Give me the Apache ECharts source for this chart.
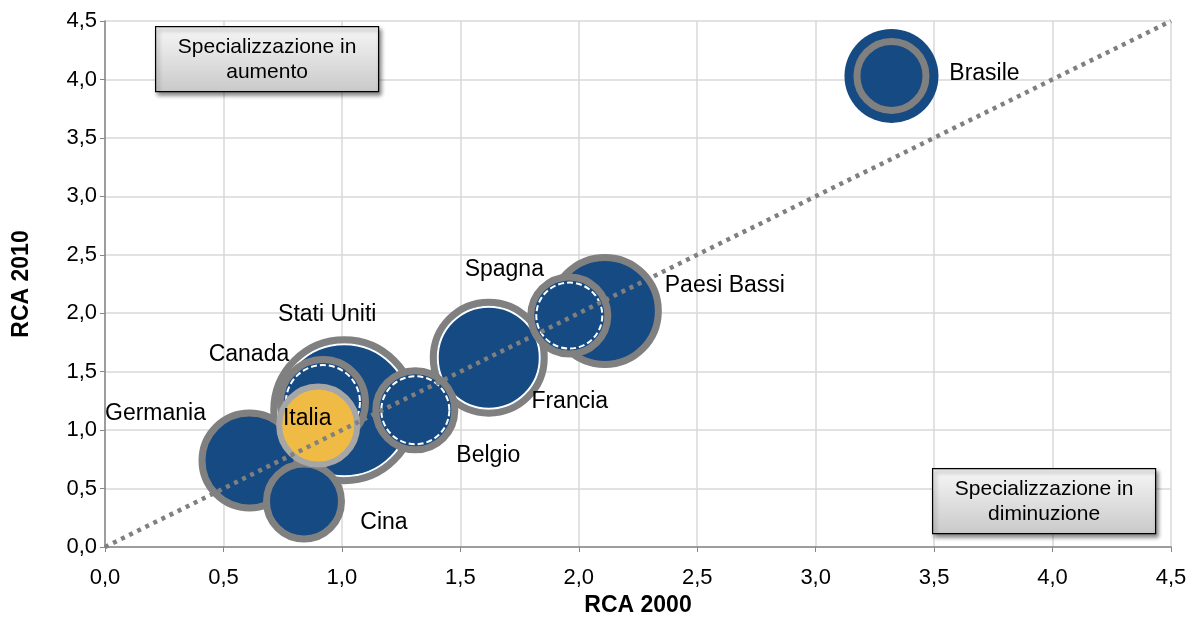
<!DOCTYPE html>
<html>
<head>
<meta charset="utf-8">
<script src="https://cdn.jsdelivr.net/npm/echarts@6/dist/echarts.min.js"></script>
<style>
  html, body { margin: 0; padding: 0; background: #fff; }
  #chart { width: 1191px; height: 622px; }
</style>
</head>
<body>
<div id="chart"></div>
<script>
// Indice RCA per paese: 2000 (asse x) e 2010 (asse y), dimensione bolla
const countries = ['Stati Uniti', 'Germania', 'Cina', 'Canada', 'Paesi Bassi', 'Francia', 'Spagna', 'Belgio', 'Italia', 'Brasile'];
const rca2000   = [1.01, 0.61, 0.84, 0.92, 2.11, 1.62, 1.96, 1.31, 0.90, 3.32];
const rca2010   = [1.17, 0.74, 0.39, 1.24, 2.02, 1.62, 1.98, 1.17, 1.04, 4.03];
const bubble    = [74, 51, 41, 46, 57, 59, 42, 43, 42, 47];
const axisTicks = [0, 0.5, 1.0, 1.5, 2.0, 2.5, 3.0, 3.5, 4.0, 4.5];

const BLUE = '#164a82';
const GRAY = '#808080';
const LIGHTGRAY = '#a6a6a6';
const YELLOW = '#f0bb45';

// Stile del contorno per ogni bolla
const ringStyle = {
  'Stati Uniti': 'white', 'Francia': 'white',
  'Germania': 'plain', 'Cina': 'plain', 'Paesi Bassi': 'plain',
  'Canada': 'dashed', 'Spagna': 'dashed', 'Belgio': 'dashed',
  'Italia': 'yellow', 'Brasile': 'double'
};
// Spostamento dell'etichetta rispetto al centro della bolla (px)
const labelShift = {
  'Stati Uniti': [-17, -96], 'Germania': [-94, -47], 'Cina': [80, 21],
  'Canada': [-74, -47], 'Paesi Bassi': [120, -25], 'Francia': [81, 44],
  'Spagna': [-65, -46], 'Belgio': [73, 45], 'Italia': [-11, -7], 'Brasile': [93, -2]
};

const points = countries.map((c, i) => [rca2000[i], rca2010[i], bubble[i], c]);
const fmt = v => v.toFixed(1).replace('.', ',');
const FONT = '"Liberation Sans", Arial, sans-serif';

function circle(cx, cy, r, style) {
  return { type: 'circle', shape: { cx, cy, r }, style };
}

function renderBubble(params, api) {
  const p = api.coord([api.value(0), api.value(1)]);
  const r = api.value(2);
  const name = countries[params.dataIndex];
  const kind = ringStyle[name];
  const children = [];
  if (kind === 'yellow') {
    children.push(circle(p[0], p[1], r - 3, { fill: YELLOW, stroke: LIGHTGRAY, lineWidth: 6 }));
  } else if (kind === 'double') {
    children.push(circle(p[0], p[1], r, { fill: BLUE }));
    children.push(circle(p[0], p[1], r - 12.5, { fill: BLUE, stroke: GRAY, lineWidth: 7 }));
  } else {
    children.push(circle(p[0], p[1], r - 3.5, { fill: BLUE, stroke: GRAY, lineWidth: 7 }));
    if (kind === 'white') {
      children.push(circle(p[0], p[1], r - 8, { fill: 'none', stroke: '#ffffff', lineWidth: 2 }));
    } else if (kind === 'dashed') {
      children.push(circle(p[0], p[1], r - 9, { fill: 'none', stroke: '#ffffff', lineWidth: 2, lineDash: [6, 3] }));
    }
  }
  return { type: 'group', children };
}

function renderLabel(params, api) {
  const p = api.coord([api.value(0), api.value(1)]);
  const name = countries[params.dataIndex];
  const s = labelShift[name];
  return {
    type: 'text',
    x: p[0] + s[0], y: p[1] + s[1],
    style: { text: name, fill: '#000', font: '23px ' + FONT, align: 'center', verticalAlign: 'middle' }
  };
}

function infoBox(left, top, text) {
  return {
    type: 'group', left, top, z: 20,
    children: [
      { type: 'rect', z: 20, shape: { x: 0, y: 0, width: 223, height: 65 },
        style: {
          fill: new echarts.graphic.LinearGradient(0, 0, 0, 1, [
            { offset: 0, color: '#f7f7f7' }, { offset: 1, color: '#c9c9c9' }
          ]),
          stroke: '#000', lineWidth: 1.2,
          shadowBlur: 4, shadowOffsetX: 2, shadowOffsetY: 3, shadowColor: 'rgba(0,0,0,0.45)'
        } },
      { type: 'text', z: 21, x: 111.5, y: 33,
        style: { text, fill: '#000', font: '21px ' + FONT, align: 'center', verticalAlign: 'middle', lineHeight: 25 } }
    ]
  };
}

const axisCommon = {
  type: 'value', min: axisTicks[0], max: axisTicks[axisTicks.length - 1], interval: 0.5,
  axisLine: { show: true, lineStyle: { color: '#868686', width: 1.5 } },
  axisTick: { show: true, length: 5, lineStyle: { color: '#868686' } },
  splitLine: { show: true, lineStyle: { color: '#d9d9d9', width: 1.5 } },
  axisLabel: { formatter: fmt, color: '#000', fontSize: 22, fontFamily: FONT },
  nameLocation: 'middle',
  nameTextStyle: { color: '#000', fontSize: 23, fontWeight: 'bold', fontFamily: FONT }
};

const chart = echarts.init(document.getElementById('chart'), null, { renderer: 'canvas' });
chart.setOption({
  animation: false,
  backgroundColor: '#ffffff',
  grid: { left: 105, right: 20, top: 21, bottom: 75 },
  xAxis: Object.assign({}, axisCommon, { name: 'RCA 2000', nameGap: 47,
    axisLabel: Object.assign({}, axisCommon.axisLabel, { margin: 20 }) }),
  yAxis: Object.assign({}, axisCommon, { name: 'RCA 2010', nameGap: 72,
    axisLabel: Object.assign({}, axisCommon.axisLabel, { margin: 8 }) }),
  graphic: [
    infoBox(155, 26, 'Specializzazione in\naumento'),
    infoBox(932, 468, 'Specializzazione in\ndiminuzione')
  ],
  series: [
    { type: 'custom', z: 2, renderItem: renderBubble, data: points, clip: false },
    { type: 'line', z: 3, data: [[axisTicks[0], axisTicks[0]], [axisTicks[9], axisTicks[9]]],
      symbol: 'none', silent: true,
      lineStyle: { color: GRAY, width: 4.5, type: [4, 5], cap: 'butt' } },
    { type: 'custom', z: 4, renderItem: renderLabel, data: points, clip: false }
  ]
});
</script>
</body>
</html>
